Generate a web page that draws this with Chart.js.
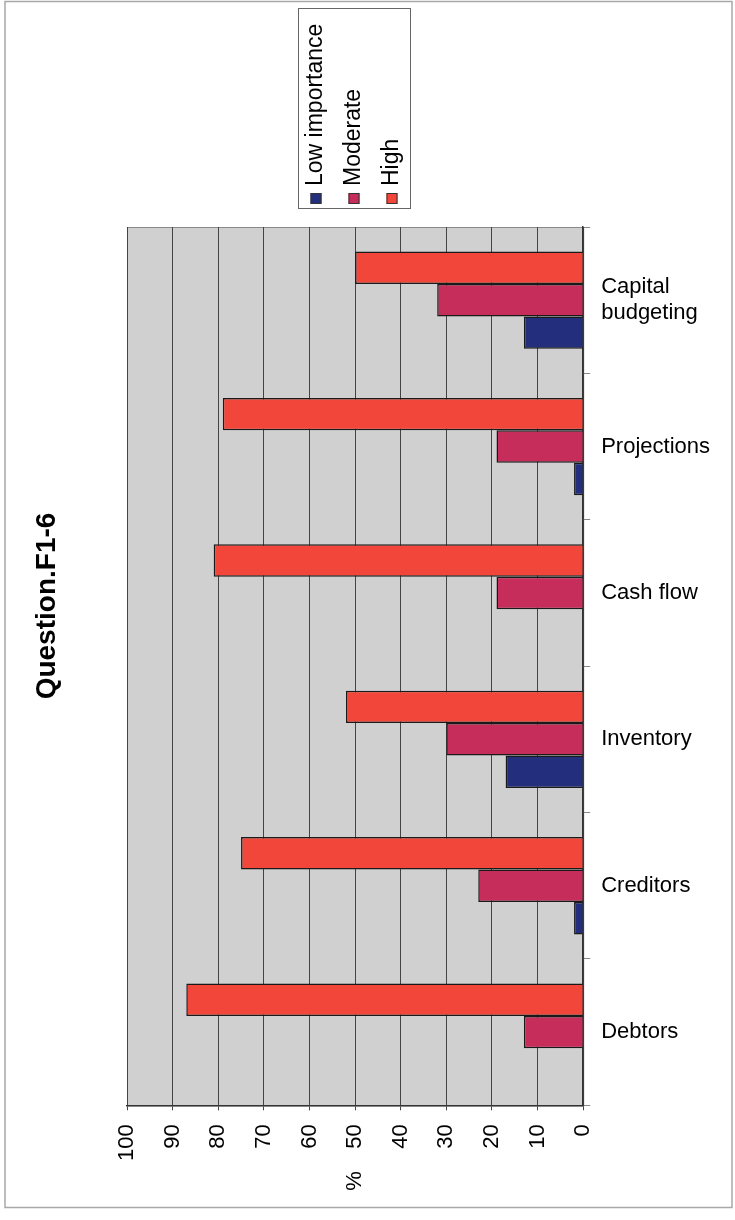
<!DOCTYPE html>
<html lang="en">
<head>
<meta charset="UTF-8">
<title>Question.F1-6</title>
<script src="https://cdn.jsdelivr.net/npm/chart.js"></script>
<style>
  html, body { margin: 0; padding: 0; background: #fff; }
</style>
</head>
<body>
<canvas id="f16Chart" width="735" height="1220"></canvas>
<script>
// categories, top to bottom as printed
const categories = [['Capital', 'budgeting'], 'Projections', 'Cash flow', 'Inventory', 'Creditors', 'Debtors'];

// % of answers per category
const lowImportance = [13, 2, 0, 17, 2, 0];
const moderate      = [32, 19, 19, 30, 23, 13];
const high          = [50, 79, 81, 52, 75, 87];

// value axis tick labels
const pctTicks = [0, 10, 20, 30, 40, 50, 60, 70, 80, 90, 100];

const FONT = '"Liberation Sans", Arial, sans-serif';
Chart.defaults.font.family = FONT;
Chart.defaults.color = '#000';

// background, frame, rotated title, rotated legend and rotated "%" axis title
const chartFrame = {
    id: 'chartFrame',
    beforeDraw(chart) {
        const { ctx, chartArea: a } = chart;
        ctx.save();
        ctx.fillStyle = '#fff';
        ctx.fillRect(0, 0, chart.width, chart.height);
        ctx.strokeStyle = '#a8a8a8';
        ctx.lineWidth = 1.5;
        ctx.strokeRect(5, 1.5, 727, 1206);
        ctx.fillStyle = '#d0d0d0';
        ctx.fillRect(a.left, a.top, a.right - a.left, a.bottom - a.top);
        ctx.strokeStyle = '#8a8a8a';
        ctx.lineWidth = 1;
        ctx.strokeRect(a.left + 0.5, a.top + 0.5, a.right - a.left, a.bottom - a.top);
        ctx.restore();
    },
    afterDraw(chart) {
        const { ctx, chartArea: a } = chart;
        ctx.save();

        // chart title (reads bottom to top)
        ctx.save();
        ctx.translate(47, 606);
        ctx.rotate(-Math.PI / 2);
        ctx.fillStyle = '#000';
        ctx.font = 'bold 28px ' + FONT;
        ctx.textAlign = 'center';
        ctx.textBaseline = 'middle';
        ctx.fillText('Question.F1-6', 0, 0);
        ctx.restore();

        // legend box
        ctx.fillStyle = '#fff';
        ctx.fillRect(298, 8, 112, 200);
        ctx.strokeStyle = '#666';
        ctx.lineWidth = 1;
        ctx.strokeRect(298.5, 8.5, 112, 200);
        const items = chart.data.datasets.slice().reverse();
        items.forEach((ds, i) => {
            const cx = 316 + i * 38;
            ctx.fillStyle = ds.backgroundColor;
            ctx.fillRect(cx - 5.5, 193, 11, 11);
            ctx.strokeStyle = '#333';
            ctx.strokeRect(cx - 5, 193.5, 10, 10);
            ctx.save();
            ctx.translate(cx, 186);
            ctx.rotate(-Math.PI / 2);
            ctx.fillStyle = '#000';
            ctx.font = '23px ' + FONT;
            ctx.textAlign = 'left';
            ctx.textBaseline = 'middle';
            ctx.fillText(ds.label, 0, 0);
            ctx.restore();
        });

        // axis title
        ctx.translate((a.left + a.right) / 2, 1181);
        ctx.rotate(-Math.PI / 2);
        ctx.fillStyle = '#000';
        ctx.font = '22px ' + FONT;
        ctx.textAlign = 'center';
        ctx.textBaseline = 'middle';
        ctx.fillText('%', 0, 0);
        ctx.restore();
    }
};

const ctx = document.getElementById('f16Chart').getContext('2d');

const data = {
    labels: categories,
    datasets: [
        {
            label: 'High',
            data: high,
            backgroundColor: '#f2463a',
        },
        {
            label: 'Moderate',
            data: moderate,
            backgroundColor: '#c62d5b',
        },
        {
            label: 'Low importance',
            data: lowImportance,
            backgroundColor: '#232f7c',
        },
    ],
};

const config = {
    type: 'bar',
    data: data,
    plugins: [chartFrame],
    options: {
        indexAxis: 'y',
        responsive: false,
        animation: false,
        layout: {
            padding: { top: 227, right: 14, bottom: 45, left: 127 },
        },
        datasets: {
            bar: {
                categoryPercentage: 0.665,
                barPercentage: 1,
                borderColor: '#1a1a1a',
                borderWidth: 1.5,
            },
        },
        plugins: {
            legend: { display: false },
            tooltip: { enabled: false },
            title: { display: false },
        },
        scales: {
            x: {
                reverse: true,
                min: 0,
                max: 100,
                afterBuildTicks: (scale) => {
                    scale.ticks = pctTicks.map(v => ({ value: v }));
                },
                ticks: {
                    autoSkip: false,
                    minRotation: 90,
                    maxRotation: 90,
                    padding: 14,
                    font: { size: 22 },
                },
                grid: {
                    color: '#444',
                    lineWidth: 1,
                    tickLength: 5,
                },
                border: { color: '#333', width: 1.5 },
            },
            y: {
                position: 'right',
                grid: {
                    offset: true,
                    drawOnChartArea: false,
                    tickLength: 7,
                    color: '#888',
                },
                ticks: {
                    padding: 11,
                    font: { size: 22 },
                },
                border: { color: '#333', width: 1.5 },
            },
        },
    },
};

const f16Chart = new Chart(ctx, config);
</script>
</body>
</html>
